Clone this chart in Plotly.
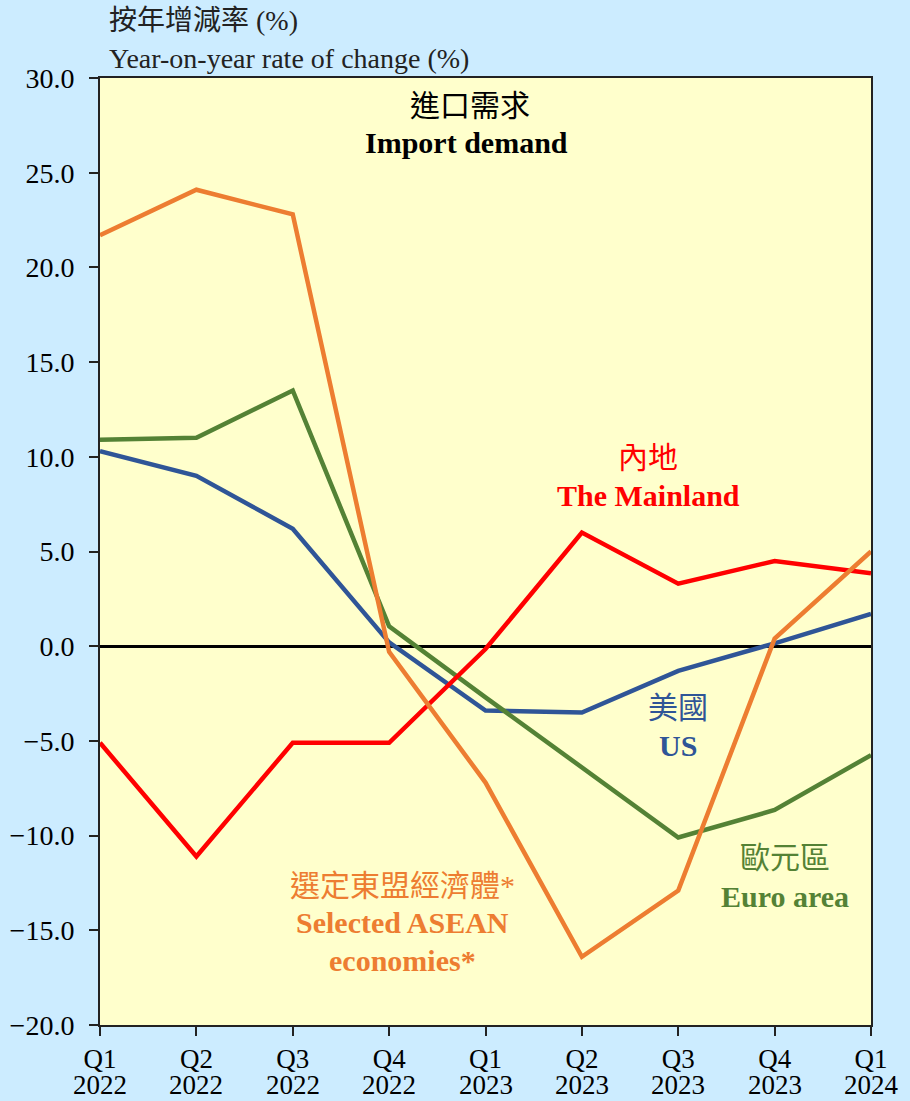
import plotly.graph_objects as go

quarters = ["Q1 2022", "Q2 2022", "Q3 2022", "Q4 2022", "Q1 2023",
            "Q2 2023", "Q3 2023", "Q4 2023", "Q1 2024"]
quarter_labels = ["Q1", "Q2", "Q3", "Q4", "Q1", "Q2", "Q3", "Q4", "Q1"]
year_labels = ["2022", "2022", "2022", "2022", "2023", "2023", "2023", "2023", "2024"]

us = [10.3, 9.0, 6.2, 0.2, -3.4, -3.5, -1.3, 0.15, 1.7]
euro = [10.9, 11.0, 13.5, 1.05, -2.7, -6.4, -10.1, -8.65, -5.75]
mainland = [-5.1, -11.1, -5.1, -5.1, -0.15, 6.0, 3.3, 4.5, 3.85]
asean = [21.7, 24.1, 22.8, -0.3, -7.2, -16.4, -12.9, 0.4, 5.0]

C_RED = "#FF0000"
C_ORANGE = "#ED7D31"
C_GREEN = "#548235"
C_BLUE = "#2F5597"
SERIF = "Liberation Serif, Noto Sans CJK TC, serif"

fig = go.Figure()
for vals, col in [(us, C_BLUE), (euro, C_GREEN), (mainland, C_RED), (asean, C_ORANGE)]:
    fig.add_trace(go.Scatter(x=quarters, y=vals, mode="lines",
                             line=dict(color=col, width=4.5), showlegend=False,
                             hoverinfo="skip"))

fig.update_layout(
    width=910, height=1101,
    margin=dict(l=100, r=39, t=78, b=76),
    paper_bgcolor="#CCECFF",
    plot_bgcolor="#FFFFCC",
    font=dict(family=SERIF, size=28, color="#000000"),
)
fig.update_xaxes(
    type="category", range=[0, 8], automargin=False,
    tickvals=quarters, ticktext=quarter_labels,
    showgrid=False, showline=True, linecolor="#222222", linewidth=2, mirror=True,
    ticks="outside", ticklen=9, tickwidth=2, tickcolor="#222222",
    ticklabelstandoff=0,
    tickfont=dict(family=SERIF, size=27, color="#000000"),
)
fig.update_yaxes(
    range=[-20, 30], dtick=5, tick0=0, tickformat=".1f", automargin=False,
    showgrid=False, showline=True, linecolor="#222222", linewidth=2, mirror=True,
    ticks="outside", ticklen=9, tickwidth=2, tickcolor="#222222",
    zeroline=True, zerolinecolor="#000000", zerolinewidth=3,
    ticklabelstandoff=9,
    tickfont=dict(family=SERIF, size=28, color="#000000"),
)

def px_to_paper(px, py):
    return (px - 100) / 771, (1025 - py) / 947

# year line of the category labels
for q, yr in zip(quarters, year_labels):
    fig.add_annotation(text=yr, x=q, y=px_to_paper(0, 1085)[1], xref="x", yref="paper",
                       showarrow=False, xanchor="center", yanchor="middle",
                       font=dict(family=SERIF, size=27, color="#000000"))

def ann(text, x, y, color, size=30, bold=False, xanchor="center"):
    t = f"<b>{text}</b>" if bold else text
    fig.add_annotation(text=t, x=x, y=y, xref="x", yref="y", showarrow=False,
                       xanchor=xanchor, yanchor="middle",
                       font=dict(family=SERIF, size=size, color=color))

# axis titles (above plot)
for txt, py in [("按年增減率 (%)", 20), ("Year-on-year rate of change (%)", 58)]:
    xp, yp = px_to_paper(107, py)
    fig.add_annotation(text=txt, x=xp, y=yp, xref="paper", yref="paper",
                       showarrow=False, xanchor="left", yanchor="middle",
                       font=dict(family=SERIF, size=28, color="#222222"))

ann("進口需求", 3.84, 28.57, "#000000")
ann("Import demand", 3.80, 26.62, "#000000", bold=True)
ann("內地", 5.69, 9.94, C_RED)
ann("The Mainland", 5.69, 7.98, C_RED, bold=True)
ann("美國", 6.0, -3.21, C_BLUE)
ann("US", 6.0, -5.22, C_BLUE, bold=True)
ann("歐元區", 7.11, -11.13, C_GREEN)
ann("Euro area", 7.11, -13.19, C_GREEN, bold=True)
ann("選定東盟經濟體*", 3.14, -12.66, C_ORANGE)
ann("Selected ASEAN", 3.14, -14.61, C_ORANGE, bold=True)
ann("economies*", 3.14, -16.57, C_ORANGE, bold=True)

fig.write_html("out.html")
